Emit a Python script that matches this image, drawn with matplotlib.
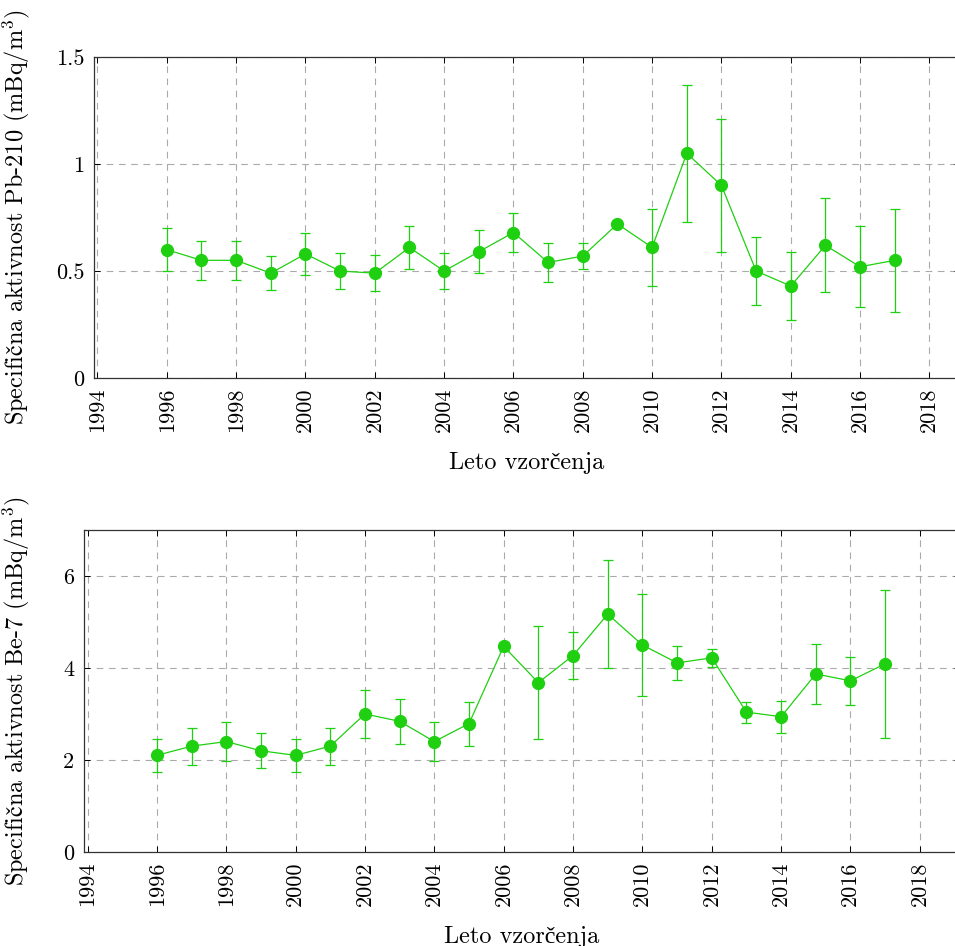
import matplotlib
matplotlib.use("Agg")
import matplotlib.pyplot as plt
import numpy as np

plt.rcParams['font.family'] = ['cmr10', 'Liberation Serif', 'DejaVu Serif']
plt.rcParams['mathtext.fontset'] = 'cm'
plt.rcParams['axes.unicode_minus'] = False
plt.rcParams['axes.formatter.use_mathtext'] = True

years = [1996, 1997, 1998, 1999, 2000, 2001, 2002, 2003, 2004, 2005, 2006,
         2007, 2008, 2009, 2010, 2011, 2012, 2013, 2014, 2015, 2016, 2017]

# Pb-210
pb210 = [0.60, 0.55, 0.55, 0.49, 0.58, 0.50, 0.49, 0.61, 0.50, 0.59, 0.68,
         0.54, 0.57, 0.72, 0.61, 1.05, 0.90, 0.50, 0.43, 0.62, 0.52, 0.55]
pb210_err = [0.10, 0.09, 0.09, 0.08, 0.10, 0.085, 0.085, 0.10, 0.085, 0.10, 0.09,
             0.09, 0.06, 0.01, 0.18, 0.32, 0.31, 0.16, 0.16, 0.22, 0.19, 0.24]

# Be-7
be7 = [2.10, 2.30, 2.40, 2.20, 2.10, 2.30, 3.00, 2.84, 2.40, 2.79, 4.47,
       3.68, 4.27, 5.17, 4.50, 4.11, 4.22, 3.04, 2.94, 3.87, 3.72, 4.09]
be7_err = [0.36, 0.40, 0.42, 0.38, 0.36, 0.40, 0.52, 0.49, 0.42, 0.48, 0.10,
           1.23, 0.51, 1.18, 1.10, 0.37, 0.19, 0.23, 0.35, 0.65, 0.52, 1.61]

xticks = list(range(1994, 2019, 2))
green = '#1fd010'
xlab = 'Leto vzorčenja'
ylab_pb = r'$\mathrm{Specifična}$ aktivnost Pb-210 (mBq/m$^3$)'
ylab_be = r'$\mathrm{Specifična}$ aktivnost Be-7 (mBq/m$^3$)'

fig = plt.figure(figsize=(9.55, 9.46), dpi=100)

panels = [
    # axes rect, values, errors, ylim, yticks, ytick labels, ylabel, xlim
    ([0.0984, 0.6004, 0.9068, 0.3393], pb210, pb210_err, (0, 1.5),
     [0, 0.5, 1, 1.5], ['0', '0.5', '1', '1.5'], ylab_pb, (1993.9, 2018.88)),
    ([0.0880, 0.0994, 0.9173, 0.3404], be7, be7_err, (0, 7),
     [0, 2, 4, 6], ['0', '2', '4', '6'], ylab_be, (1993.9, 2019.16)),
]

for rect, vals, errs, ylim, yt, ytl, ylab, xlim in panels:
    ax = fig.add_axes(rect)
    ax.errorbar(years, vals, yerr=errs, color=green, marker='o', markersize=8.5,
                linewidth=0.9, elinewidth=0.9, capsize=3.6, capthick=0.9, zorder=3)
    ax.set_xlim(*xlim)
    ax.set_ylim(*ylim)
    ax.set_xticks(xticks)
    ax.set_xticklabels([str(t) for t in xticks], rotation=90, fontsize=16)
    ax.set_yticks(yt)
    ax.set_yticklabels(ytl, fontsize=16)
    ax.grid(True, color='#aaaaaa', linestyle=(0, (6, 5)), linewidth=0.8)
    ax.tick_params(direction='in', length=4, width=0.7, top=True, right=True, pad=7)
    for s in ax.spines.values():
        s.set_linewidth(0.9)
        s.set_color('#333333')
    ax.set_xlabel(xlab, fontsize=17.5, labelpad=14)
    ax.set_ylabel(ylab, fontsize=17.5)
    ax.yaxis.set_label_coords(-(rect[0] * 955 - 32) / (rect[2] * 955), 0.5)

fig.savefig('out.png', dpi=100)
